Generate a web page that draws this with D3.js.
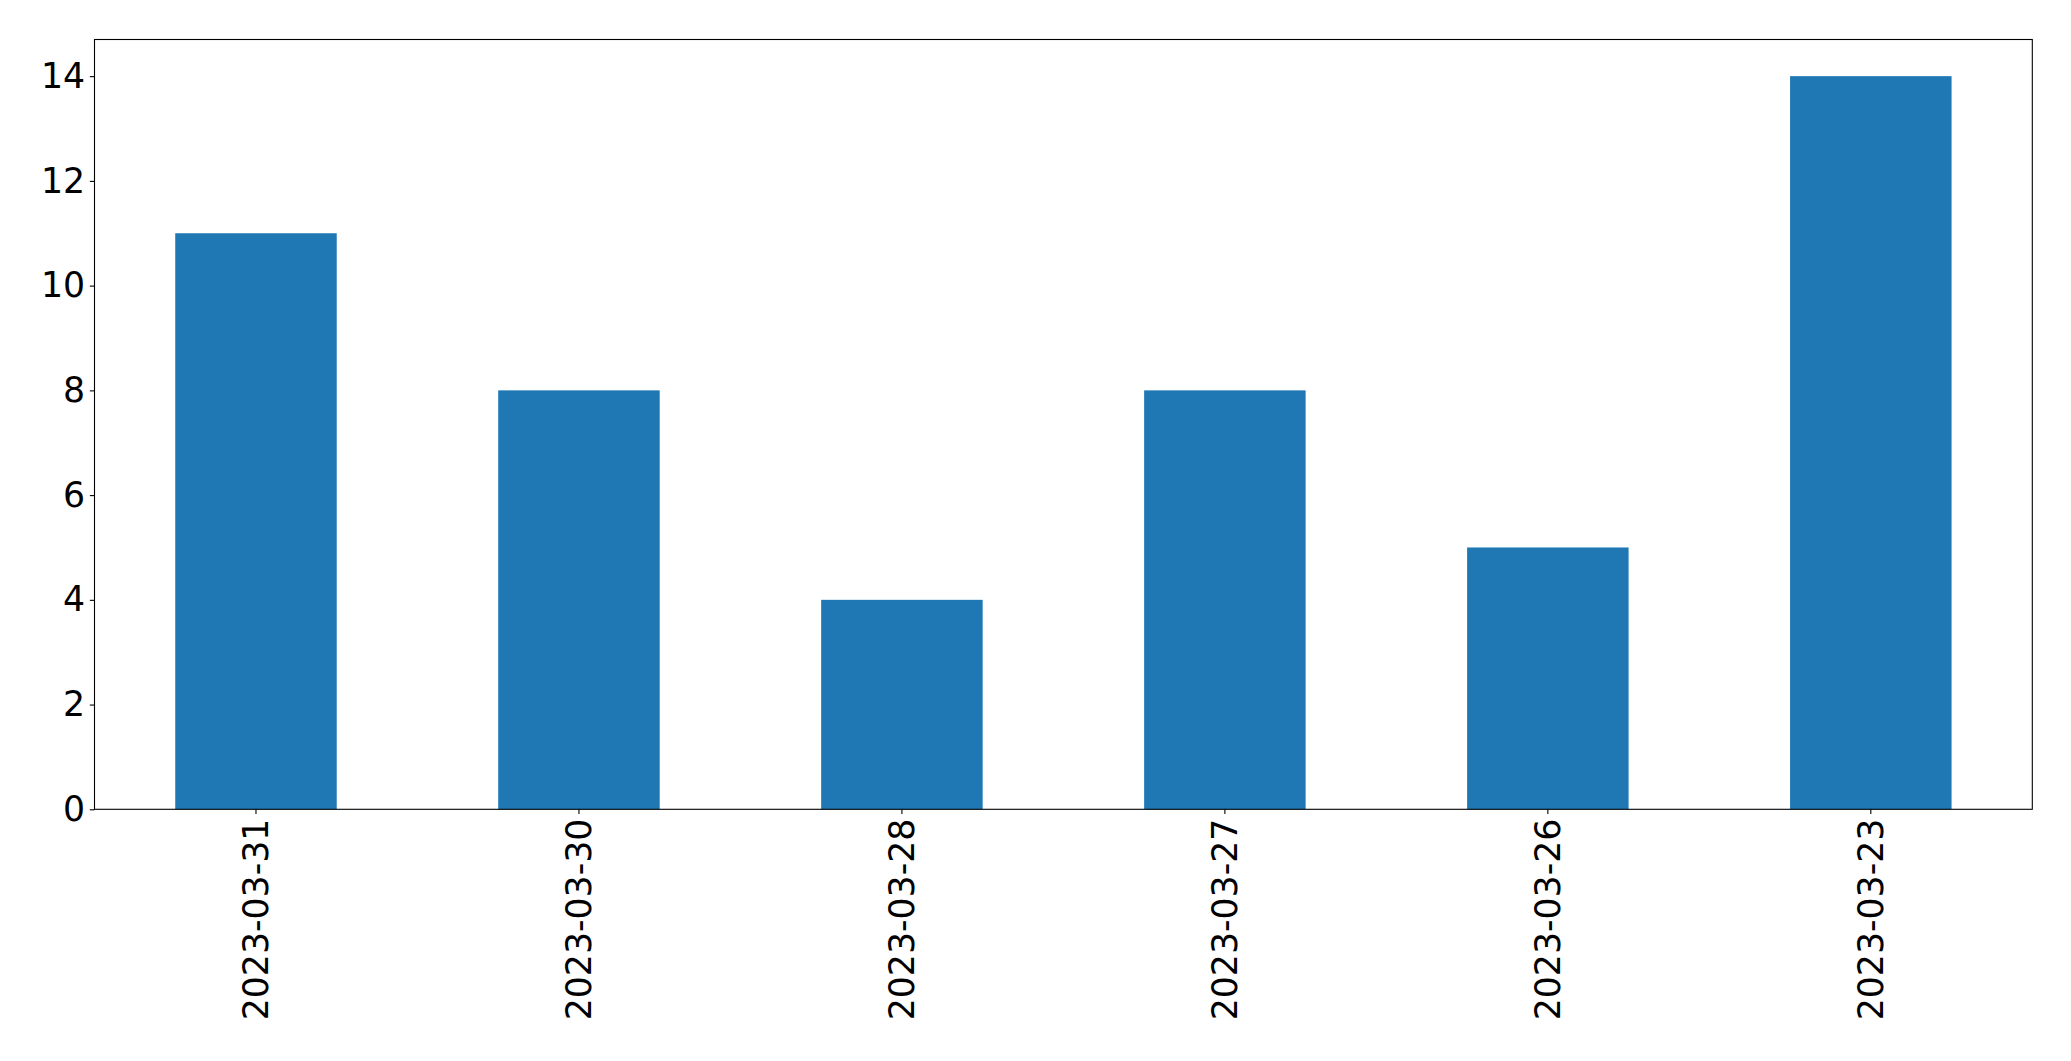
<!DOCTYPE html>
<html><head><meta charset="utf-8">
<script src="https://cdn.jsdelivr.net/npm/d3@7"></script>
<style>html,body{margin:0;padding:0;background:#fff;}svg{display:block;}</style>
</head><body>
<script>
const categories = ["2023-03-31","2023-03-30","2023-03-28","2023-03-27","2023-03-26","2023-03-23"];
const values = [11, 8, 4, 8, 5, 14];
const yTicks = [0, 2, 4, 6, 8, 10, 12, 14];

const W = 2071, H = 1061;
const m = {left: 94.5, right: 2071 - 2032.3, top: 39.5, bottom: 1061 - 809.3};
const svg = d3.select("body").append("svg").attr("width", W).attr("height", H);
const iw = W - m.left - m.right, ih = H - m.top - m.bottom;
const g = svg.append("g").attr("transform", `translate(${m.left},${m.top})`);

const x = d3.scaleBand().domain(categories).range([0, iw]).paddingInner(0.5).paddingOuter(0.25);
const y = d3.scaleLinear().domain([0, 14.7]).range([ih, 0]);

g.selectAll("rect.bar").data(values).join("rect").attr("class","bar")
  .attr("x", (d,i) => x(categories[i]))
  .attr("width", x.bandwidth())
  .attr("y", d => y(d))
  .attr("height", d => y(0) - y(d))
  .attr("fill", "#1f77b4");

const font = "DejaVu Sans, sans-serif";
const yAxis = g.append("g").call(d3.axisLeft(y).tickValues(yTicks).tickSize(4.7).tickPadding(4.7).tickFormat(d3.format("d")));
const xAxis = g.append("g").attr("transform", `translate(0,${ih})`).call(d3.axisBottom(x).tickSize(4.7).tickPadding(4.7));
[yAxis, xAxis].forEach(a => {
  a.select(".domain").remove();
  a.selectAll("line").attr("stroke","#000").attr("stroke-width",1.1);
  a.selectAll("text").attr("font-family", font).attr("font-size", 34.7).attr("fill","#000");
});
xAxis.selectAll("text")
  .attr("transform", "rotate(-90)")
  .attr("text-anchor", "end")
  .attr("dy", "0.35em")
  .attr("x", -9.4)
  .attr("y", 0);

g.append("rect").attr("x",0).attr("y",0).attr("width",iw).attr("height",ih)
  .attr("fill","none").attr("stroke","#000").attr("stroke-width",1.1);
</script>
</body></html>
